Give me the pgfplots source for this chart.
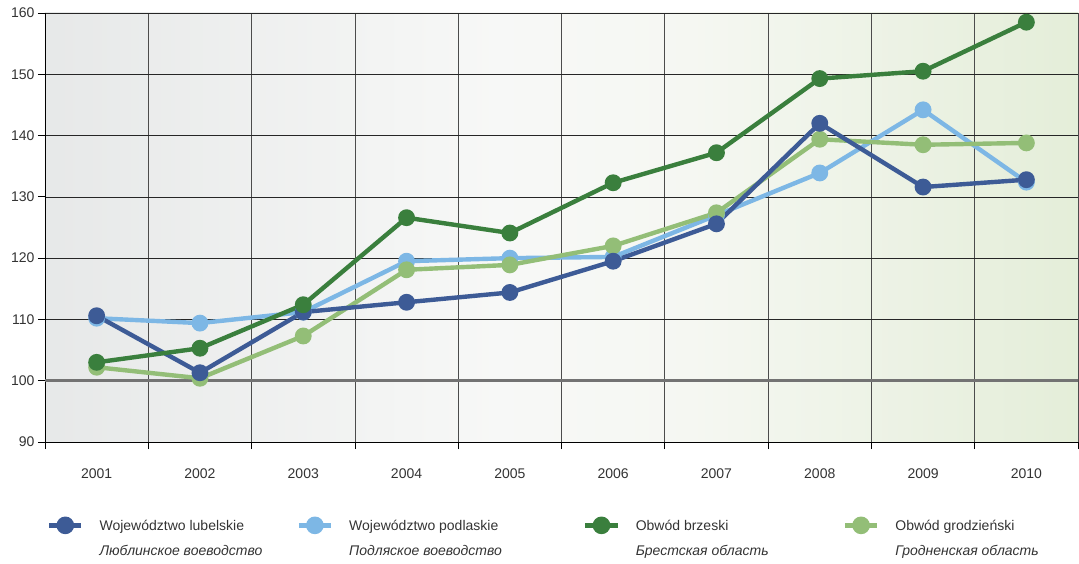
\documentclass[border=0pt]{standalone}
\usepackage{pgfplots}
\pgfplotsset{compat=1.18}
\usepackage{fontspec}
\setmainfont{Liberation Sans}
\definecolor{cLub}{HTML}{3D5B96}
\definecolor{cPod}{HTML}{7DB7E5}
\definecolor{cBrz}{HTML}{3A7F3D}
\definecolor{cGro}{HTML}{93BE77}
\definecolor{txt}{HTML}{333333}
\pgfdeclarehorizontalshading{bgshade}{100bp}{%
  rgb(0bp)=(0.905,0.912,0.912);
  rgb(25bp)=(0.905,0.912,0.912);
  rgb(47bp)=(0.970,0.973,0.968);
  rgb(56bp)=(0.962,0.970,0.950);
  rgb(75bp)=(0.895,0.932,0.850);
  rgb(100bp)=(0.895,0.932,0.850)}
\newcommand{\lent}[3]{\begin{tabular}[t]{@{}p{#1}@{}}#2\\[9pt]\textit{#3}\end{tabular}}
\begin{document}
\begin{tikzpicture}
\begin{axis}[
  scale only axis, width=1033pt, height=429pt,
  xmin=-0.5, xmax=9.5, ymin=90, ymax=160,
  axis x line=bottom, axis y line=left,
  axis line style={-, black, line width=0.8pt},
  xtick={0,...,9},
  xticklabels={2001,2002,2003,2004,2005,2006,2007,2008,2009,2010},
  minor xtick={-0.5,0.5,...,9.5},
  ytick={90,100,...,160},
  xmajorgrids=false, xminorgrids=true, ymajorgrids=true,
  major grid style={black!85, line width=0.7pt},
  minor grid style={black!70, line width=0.8pt},
  major x tick style={draw=none},
  minor x tick style={black, line width=0.8pt},
  major y tick style={black, line width=0.8pt},
  tick align=outside, major tick length=7pt, minor tick length=7pt,
  ticklabel style={font=\fontsize{14}{16}\selectfont, text=txt},
  xticklabel style={yshift=-16pt},
  /pgf/number format/assume math mode=true,
  axis background/.style={shading=bgshade},
  legend columns=4,
  legend style={draw=none, fill=none, inner sep=0pt, outer sep=0pt,
    at={(0,0)}, anchor=north west, xshift=2pt, yshift=-75pt,
    font=\fontsize{14}{16}\selectfont, text=txt,
    /tikz/every odd column/.append style={column sep=14pt},
    /tikz/every even column/.append style={column sep=0pt}},
  legend image code/.code={\draw[#1, mark repeat=2, mark phase=2] plot coordinates {(0pt,0pt)(16pt,0pt)(32pt,0pt)};},
  every axis plot/.append style={line width=4.4pt, mark=*, mark size=6.2pt},
  clip=false,
]
\addplot[forget plot, mark=none, line width=3pt, color=black!55] coordinates {(-0.5,100)(9.5,100)};

\addlegendimage{cLub, line width=4.6pt, mark=*, mark size=6.5pt}
\addlegendentry{\lent{195pt}{Województwo lubelskie}{Люблинское воеводство}}
\addlegendimage{cPod, line width=4.6pt, mark=*, mark size=6.5pt}
\addlegendentry{\lent{232pt}{Województwo podlaskie}{Подляское воеводство}}
\addlegendimage{cBrz, line width=4.6pt, mark=*, mark size=6.5pt}
\addlegendentry{\lent{205pt}{Obwód brzeski}{Брестская область}}
\addlegendimage{cGro, line width=4.6pt, mark=*, mark size=6.5pt}
\addlegendentry{\lent{170pt}{Obwód grodzieński}{Гродненская область}}

% Podlaskie
\addplot[forget plot, cPod] coordinates {(0,110.2)(1,109.4)(2,111.2)(3,119.5)(4,120.0)(5,120.2)(6,127.0)(7,133.9)(8,144.2)(9,132.4)};
% Grodzienski
\addplot[forget plot, cGro] coordinates {(0,102.2)(1,100.4)(2,107.3)(3,118.1)(4,118.9)(5,122.0)(6,127.4)(7,139.4)(8,138.5)(9,138.8)};
% Lubelskie
\addplot[forget plot, cLub] coordinates {(0,110.6)(1,101.3)(2,111.2)(3,112.8)(4,114.4)(5,119.5)(6,125.6)(7,142.0)(8,131.6)(9,132.8)};
% Brzeski
\addplot[forget plot, cBrz] coordinates {(0,103.0)(1,105.3)(2,112.4)(3,126.6)(4,124.1)(5,132.3)(6,137.2)(7,149.3)(8,150.5)(9,158.5)};
\end{axis}
\pgfresetboundingbox
\path (-45pt,-121pt) rectangle (1034pt,442pt);
\end{tikzpicture}
\end{document}
